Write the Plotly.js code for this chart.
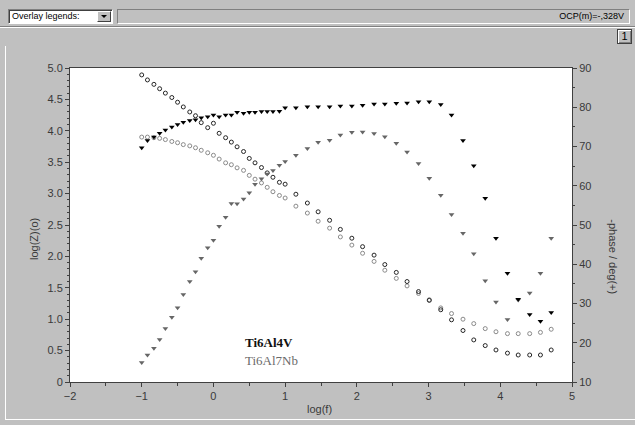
<!DOCTYPE html>
<html>
<head>
<meta charset="utf-8">
<script src="https://cdn.plot.ly/plotly-3.0.1.min.js"></script>
<style>
  html, body { margin: 0; padding: 0; background: #c0c0c0; width: 635px; height: 425px; overflow: hidden; }
  #chart { position: absolute; left: 0; top: 0; width: 635px; height: 425px; }
  .ui { position: absolute; z-index: 5; font-family: "Liberation Sans", Arial, sans-serif; font-size: 9px; color: #000; box-sizing: border-box; }
  #combo { left: 8px; top: 9px; width: 105px; height: 15px; background: #fff; border-top: 1px solid #808080; border-left: 1px solid #808080; border-bottom: 1px solid #fff; border-right: 1px solid #fff; box-shadow: inset 1px 1px 0 #404040; line-height: 13px; padding-left: 3px; }
  #combobtn { left: 97px; top: 11px; width: 14px; height: 11px; background: #c0c0c0; border-top: 1px solid #fff; border-left: 1px solid #fff; border-bottom: 1px solid #404040; border-right: 1px solid #404040; }
  #combobtn:after { content: ""; position: absolute; left: 3px; top: 3px; border-left: 3px solid transparent; border-right: 3px solid transparent; border-top: 3px solid #000; }
  #status { left: 117px; top: 9px; width: 513px; height: 15px; border-top: 1px solid #808080; border-left: 1px solid #808080; border-bottom: 1px solid #fff; border-right: 1px solid #fff; text-align: right; line-height: 13px; padding-right: 5px; }
  #sep { left: 0; top: 26px; width: 635px; height: 2px; border-top: 1px solid #808080; border-bottom: 1px solid #fff; }
  #pagebox { left: 617px; top: 29px; width: 15px; height: 15px; border: 1px solid #404040; box-shadow: inset 1px 1px 0 #fff, inset -1px -1px 0 #808080; text-align: center; line-height: 13px; font-size: 11px; }
  #frameL { left: 5px; top: 46px; width: 2px; height: 374px; border-left: 1px solid #fff; }
  #frameB { left: 5px; top: 419px; width: 630px; height: 2px; border-top: 1px solid #fff; }
</style>
</head>
<body>
<div id="chart"></div>
<div class="ui" id="combo">Overlay legends:</div>
<div class="ui" id="combobtn"></div>
<div class="ui" id="status">OCP(m)=-,328V</div>
<div class="ui" id="sep"></div>
<div class="ui" id="pagebox">1</div>
<div class="ui" id="frameL"></div>
<div class="ui" id="frameB"></div>
<script>
// log(f) of each measured frequency
const logF = [-1.00,-0.92,-0.83,-0.75,-0.67,-0.58,-0.50,-0.42,-0.33,-0.25,-0.17,-0.08,0.00,0.08,0.17,0.25,0.33,0.42,0.50,0.58,0.67,0.75,0.83,0.92,1.00,
              1.15,1.31,1.46,1.62,1.77,1.93,2.08,2.24,2.39,2.55,2.70,2.86,3.01,3.17,3.32,3.48,3.63,3.79,3.94,4.10,4.25,4.41,4.56,4.71];

// log|Z| (left axis, circles)
const logZ_Ti6Al4V = [4.89,4.81,4.74,4.67,4.60,4.53,4.455,4.38,4.30,4.24,4.13,4.05,4.12,3.96,3.89,3.82,3.745,3.67,3.56,3.49,3.415,3.33,3.26,3.18,3.15,
                      2.99,2.85,2.71,2.575,2.43,2.29,2.155,2.02,1.87,1.745,1.60,1.44,1.30,1.15,0.99,0.82,0.67,0.58,0.51,0.46,0.43,0.43,0.43,0.51];
const logZ_Ti6Al7Nb = [3.90,3.90,3.89,3.88,3.86,3.83,3.81,3.78,3.76,3.73,3.69,3.65,3.61,3.55,3.49,3.46,3.41,3.37,3.29,3.23,3.17,3.10,3.03,2.97,2.93,
                       2.80,2.69,2.56,2.45,2.31,2.18,2.05,1.92,1.78,1.65,1.53,1.41,1.31,1.18,1.09,1.00,0.93,0.85,0.80,0.77,0.77,0.77,0.79,0.84];

// -phase in degrees (right axis, triangles)
const phase_Ti6Al4V = [69.7,71.5,72.4,73.4,74.2,75.0,75.6,76.2,76.6,76.8,77.3,77.6,78.0,77.6,78.0,78.0,78.7,78.5,78.7,78.7,78.9,78.9,78.9,79.0,79.9,
                       79.9,80.1,80.1,80.1,80.3,80.3,80.5,80.8,80.8,81.0,81.1,81.4,81.4,80.7,78.0,71.5,65.1,56.8,46.6,37.7,31.1,27.2,25.5,27.7];
const phase_Ti6Al7Nb = [15.0,16.9,18.6,20.8,23.6,26.5,28.9,32.3,35.6,38.1,41.5,44.2,46.1,49.7,52.0,55.5,55.4,56.6,58.2,60.4,61.8,63.0,63.9,65.2,66.2,
                        67.8,69.5,71.1,71.6,72.9,73.6,73.7,73.3,72.5,70.8,68.6,65.7,61.9,57.6,52.7,47.9,42.7,35.8,30.4,25.9,30.9,32.7,37.7,46.6];

const legendNames = ["Ti6Al4V", "Ti6Al7Nb"];

const yTickVals = [0,0.5,1,1.5,2,2.5,3,3.5,4,4.5,5];
const yTickText = ["0","0.5","1.0","1.5","2.0","2.5","3.0","3.5","4.0","4.5","5.0"];

const axisColor = "#404040";
const tickFont = {family: "Liberation Sans, Arial, sans-serif", size: 11, color: "#3a3a3a"};

const traces = [
  {x: logF, y: logZ_Ti6Al7Nb, mode: "markers", type: "scatter", name: legendNames[1] + " |Z|",
   marker: {symbol: "circle-open", size: 4, color: "#8a8a8a", line: {width: 1, color: "#8a8a8a"}}},
  {x: logF, y: logZ_Ti6Al4V, mode: "markers", type: "scatter", name: legendNames[0] + " |Z|",
   marker: {symbol: "circle-open", size: 4, color: "#262626", line: {width: 1, color: "#262626"}}},
  {x: logF, y: phase_Ti6Al7Nb, mode: "markers", type: "scatter", yaxis: "y2", name: legendNames[1] + " phase",
   marker: {symbol: "triangle-down", size: 5, color: "#666666", line: {width: 0}}},
  {x: logF, y: phase_Ti6Al4V, mode: "markers", type: "scatter", yaxis: "y2", name: legendNames[0] + " phase",
   marker: {symbol: "triangle-down", size: 5, color: "#000000", line: {width: 0}}}
];

const layout = {
  width: 635, height: 425, autosize: false,
  margin: {l: 70, r: 63, t: 68, b: 43, pad: 0},
  paper_bgcolor: "rgba(0,0,0,0)",
  plot_bgcolor: "#ffffff",
  showlegend: false,
  font: tickFont,
  xaxis: {
    range: [-2, 5], dtick: 1, tick0: 0, showgrid: false, zeroline: false,
    showline: true, linecolor: axisColor, linewidth: 1, mirror: true,
    ticks: "outside", ticklen: 4, tickcolor: axisColor, tickfont: tickFont,
    minor: {dtick: 0.5, ticks: "outside", ticklen: 3, tickcolor: axisColor, showgrid: false}
  },
  yaxis: {
    range: [0, 5], tickvals: yTickVals, ticktext: yTickText, showgrid: false, zeroline: false,
    showline: true, linecolor: axisColor, linewidth: 1,
    ticks: "outside", ticklen: 4, tickcolor: axisColor, tickfont: tickFont,
    minor: {dtick: 0.1, ticks: "outside", ticklen: 2, tickcolor: axisColor, showgrid: false}
  },
  yaxis2: {
    range: [10, 90], dtick: 10, overlaying: "y", side: "right", showgrid: false, zeroline: false,
    showline: true, linecolor: axisColor, linewidth: 1,
    ticks: "outside", ticklen: 4, tickcolor: axisColor, tickfont: tickFont,
    minor: {dtick: 5, ticks: "outside", ticklen: 2, tickcolor: axisColor, showgrid: false}
  },
  annotations: [
    {text: "log(Z)(o)", xref: "paper", yref: "paper", x: -0.072, y: 0.455, textangle: -90, showarrow: false,
     xanchor: "center", yanchor: "middle", font: {family: "Liberation Sans, Arial, sans-serif", size: 11, color: "#3a3a3a"}},
    {text: "-phase / deg(+)", xref: "paper", yref: "paper", x: 1.08, y: 0.40, textangle: 90, showarrow: false,
     xanchor: "center", yanchor: "middle", font: {family: "Liberation Sans, Arial, sans-serif", size: 11, color: "#3a3a3a"}},
    {text: "log(f)", xref: "paper", yref: "paper", x: 0.497, y: -0.085, showarrow: false,
     xanchor: "center", yanchor: "middle", font: {family: "Liberation Sans, Arial, sans-serif", size: 11, color: "#3a3a3a"}},
    {text: "<b>" + legendNames[0] + "</b>", xref: "paper", yref: "paper", x: 0.345, y: 0.125, showarrow: false,
     xanchor: "left", yanchor: "middle", font: {family: "Liberation Serif, Times New Roman, serif", size: 13, color: "#111111"}},
    {text: legendNames[1], xref: "paper", yref: "paper", x: 0.345, y: 0.067, showarrow: false,
     xanchor: "left", yanchor: "middle", font: {family: "Liberation Serif, Times New Roman, serif", size: 13, color: "#6a6a6a"}}
  ]
};

Plotly.newPlot("chart", traces, layout, {staticPlot: true, displayModeBar: false});
</script>
</body>
</html>
